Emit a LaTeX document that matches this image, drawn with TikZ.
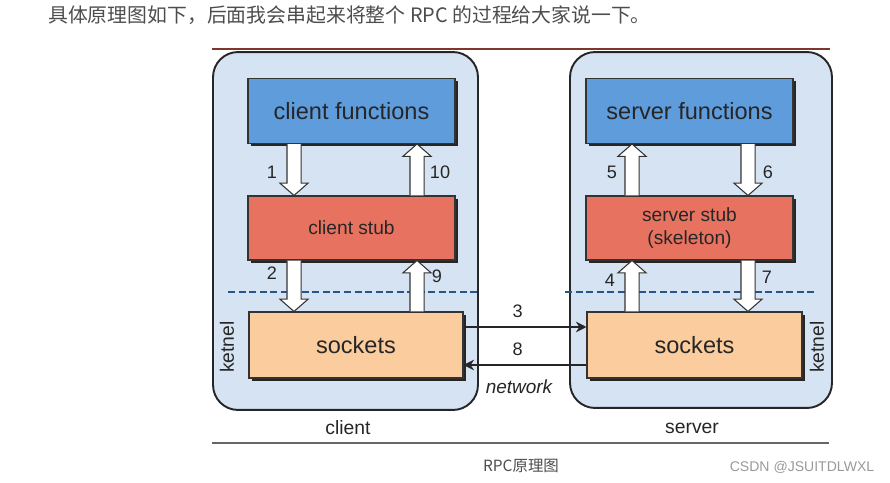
\documentclass[tikz,border=0pt]{standalone}
\usepackage{fontspec}
\setmainfont{Liberation Sans}
\newfontfamily\cjk{Noto Sans CJK SC}
\usetikzlibrary{calc,shadows,arrows.meta}

\definecolor{hostfill}{RGB}{213,227,242}
\definecolor{funcblue}{RGB}{95,156,220}
\definecolor{stubred}{RGB}{232,114,96}
\definecolor{sockpeach}{RGB}{250,204,158}
\definecolor{kerneldash}{RGB}{40,85,135}
\definecolor{headgray}{RGB}{77,77,77}
\definecolor{framered}{RGB}{125,55,45}

% hollow block arrow between two points on one vertical
\newcommand{\hollowarrow}[2]{%
	\draw[hollow] let \p1=(#1), \p2=(#2), \p3=($(#2)!7pt!(#1)$) in
		(\x1-4pt,\y1) -- (\x1-4pt,\y3) -- (\x1-8pt,\y3) -- (\x2,\y2)
		-- (\x1+8pt,\y3) -- (\x1+4pt,\y3) -- (\x1+4pt,\y1);}

\begin{document}
\begin{tikzpicture}[x=0.02cm,y=-0.02cm,
	host/.style={draw=black!85,line width=1.1pt,fill=hostfill,rounded corners=0.5cm},
	layer/.style={draw=black!80,line width=0.6pt,text=black!85,
		drop shadow={shadow xshift=1.6pt,shadow yshift=-1.6pt,fill=black!85,opacity=1}},
	hollow/.style={draw=black!80,line width=0.6pt,fill=white},
	wire/.style={draw=black!85,line width=1pt,-{Stealth[length=6pt,width=6pt]}},
	num/.style={font=\fontsize{10.3}{12}\selectfont,text=black!85},
	tag/.style={font=\fontsize{11}{13}\selectfont,text=black!85},
	kdash/.style={draw=kerneldash,line width=0.8pt,dash pattern=on 4pt off 2pt}]
	\useasboundingbox (0,0) rectangle (890,483);

	\node[anchor=west,text=headgray,font=\cjk\fontsize{11.3}{14}\selectfont] (title) at (42,15) {具体原理图如下，后面我会串起来将整个 RPC 的过程给大家说一下。};
	\draw[framered,line width=0.6pt] (212,49) -- (830,49);

	% the two hosts
	\node[host,minimum width=5.3cm,minimum height=7.16cm] (client) at (345.5,231) {};
	\node[host,minimum width=5.24cm,minimum height=7.12cm] (server) at (701,230) {};

	\draw[kdash] (228,292) -- (478,292);
	\draw[kdash] (565,292) -- (815,292);

	\node[layer,fill=funcblue,minimum width=4.14cm,minimum height=1.3cm,font=\fontsize{13.4}{16}\selectfont] (cfun) at (351.5,111) {client functions};
	\node[layer,fill=stubred,minimum width=4.14cm,minimum height=1.28cm,font=\fontsize{10.9}{13}\selectfont] (cstub) at (351.5,228) {client stub};
	\node[layer,fill=sockpeach,minimum width=4.28cm,minimum height=1.32cm,font=\fontsize{13.4}{16}\selectfont] (csock) at (356,345) {sockets};

	\node[layer,fill=funcblue,minimum width=4.14cm,minimum height=1.3cm,font=\fontsize{13.4}{16}\selectfont] (sfun) at (689.5,111) {server functions};
	\node[layer,fill=stubred,minimum width=4.14cm,minimum height=1.28cm,align=center,font=\fontsize{10.9}{13}\selectfont] (sstub) at (689.5,228) {server stub\\(skeleton)};
	\node[layer,fill=sockpeach,minimum width=4.3cm,minimum height=1.32cm,font=\fontsize{13.4}{16}\selectfont] (ssock) at (694.5,345) {sockets};

	\coordinate (cl) at (294,0);
	\coordinate (cr) at (417,0);
	\coordinate (sl) at (632,0);
	\coordinate (sr) at (748,0);

	\hollowarrow{cl |- cfun.south}{cl |- cstub.north}
	\hollowarrow{cr |- cstub.north}{cr |- cfun.south}
	\hollowarrow{cl |- cstub.south}{cl |- csock.north}
	\hollowarrow{cr |- csock.north}{cr |- cstub.south}
	\hollowarrow{sl |- sstub.north}{sl |- sfun.south}
	\hollowarrow{sr |- sfun.south}{sr |- sstub.north}
	\hollowarrow{sl |- ssock.north}{sl |- sstub.south}
	\hollowarrow{sr |- sstub.south}{sr |- ssock.north}

	\node[num] (n1) at (272,172) {1};
	\node[num] (n10) at (440,172) {10};
	\node[num] (n2) at (272,273) {2};
	\node[num] (n9) at (437,276) {9};
	\node[num] (n5) at (612,172) {5};
	\node[num] (n6) at (768,172) {6};
	\node[num] (n4) at (610,280) {4};
	\node[num] (n7) at (767,277) {7};

	% network
	\coordinate (go) at (0,327);
	\coordinate (back) at (0,365);
	\draw[wire] (csock.east |- go) -- node[num,above=1.5pt,pos=0.44] (n3) {3} (ssock.west |- go);
	\draw[wire] (ssock.west |- back) -- node[num,above=1.5pt,pos=0.56] (n8) {8} (csock.east |- back);
	\node[font=\itshape\fontsize{10.8}{13}\selectfont,text=black!85] (net) at (519,387) {network};

	\node[tag,rotate=90] (kc) at (227,347) {ketnel};
	\node[tag,rotate=90] (ks) at (817,347) {ketnel};
	\node[tag] (lc) at (348,428) {client};
	\node[tag] (ls) at (692,428) {server};

	\draw[black!60,line width=1.1pt] (212,443) -- (829,443);
	\node[text=headgray,font=\cjk\fontsize{8.8}{11}\selectfont] (caption) at (521,466) {RPC原理图};
	\node[text=black!40,font=\fontsize{8}{10}\selectfont] (mark) at (802,467) {CSDN @JSUITDLWXL};
\end{tikzpicture}
\end{document}
